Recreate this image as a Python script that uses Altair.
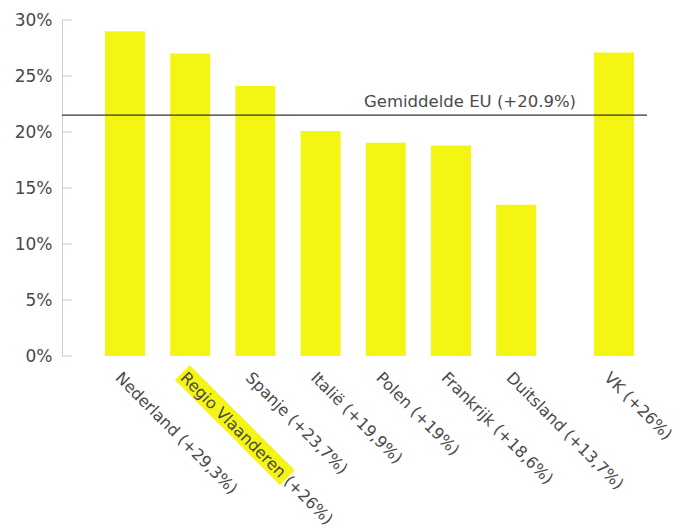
import altair as alt
import pandas as pd

# --- data ---
labels = ["Nederland (+29,3%)", "Regio Vlaanderen (+26%)", "Spanje (+23,7%)",
          "Italië (+19,9%)", "Polen (+19%)", "Frankrijk (+18,6%)",
          "Duitsland (+13,7%)", "VK (+26%)"]
slot = [0, 1, 2, 3, 4, 5, 6, 7.5]          # category slot (gap before VK)
values = [29.0, 27.0, 24.1, 20.1, 19.05, 18.8, 13.5, 27.1]
eu_avg_pos = [21.5]
eu_label = ["Gemiddelde EU (+20.9%)"]
highlight_label = ["Regio Vlaanderen (+26%)"]
y_ticks = [0, 5, 10, 15, 20, 25, 30]

W, H = 585, 336
FONT = "DejaVu Sans"
TXT = "#4a4a4a"
YEL = "#f5f513"

df = pd.DataFrame({"label": labels, "slot": slot, "value": values})
df_hl = df[df["label"].isin(highlight_label)].copy()
df_hl["block"] = "\u2588" * 11
df_eu = pd.DataFrame({"y": eu_avg_pos, "text": eu_label})
df_ticks = pd.DataFrame({"t": y_ticks})

xs = alt.Scale(domain=[-0.89, 7.93])
ys = alt.Scale(domain=[0, 30])

bars = alt.Chart(df).mark_bar(width=40, color=YEL).encode(
    x=alt.X("slot:Q", scale=xs, axis=None),
    y=alt.Y("value:Q", scale=ys, axis=alt.Axis(
        values=y_ticks, labelExpr="datum.value + '%'", title=None, grid=False,
        ticks=False, domainColor="#cfcfd8", labelPadding=10,
        labelFont=FONT, labelFontSize=17, labelColor=TXT)),
)

ticks = alt.Chart(df_ticks).mark_rule(color="#c8c8d4", strokeWidth=1).encode(
    y=alt.Y("t:Q", scale=ys), x=alt.value(0), x2=alt.value(10))

hl = alt.Chart(df_hl).mark_text(
    font=FONT, fontSize=17.5, color=YEL, angle=45, align="left",
    baseline="middle", dx=-4, dy=7.5).encode(
    x=alt.X("slot:Q", scale=xs), y=alt.value(H + 15), text="block:N")

xlab = alt.Chart(df).mark_text(
    font=FONT, fontSize=16, color=TXT, angle=45, align="left",
    baseline="top", dx=-2).encode(
    x=alt.X("slot:Q", scale=xs), y=alt.value(H + 15), text="label:N")

rule = alt.Chart(df_eu).mark_rule(color="#333333", strokeWidth=1.3).encode(
    y=alt.Y("y:Q", scale=ys), x=alt.value(0), x2=alt.value(W))

eu_text = alt.Chart(df_eu).mark_text(
    font=FONT, fontSize=16.5, color=TXT, align="center",
    baseline="alphabetic", dy=-8).encode(
    y=alt.Y("y:Q", scale=ys), x=alt.value(408), text="text:N")

chart = alt.layer(bars, ticks, rule, eu_text, hl, xlab).properties(
    width=W, height=H,
    background="white",
    autosize=alt.AutoSizeParams(type="none"),
    padding={"left": 54, "top": 12, "right": 42, "bottom": 175},
).configure_view(stroke=None, strokeWidth=0)

chart.save("out.html", embed_options={"renderer": "svg", "actions": False})
